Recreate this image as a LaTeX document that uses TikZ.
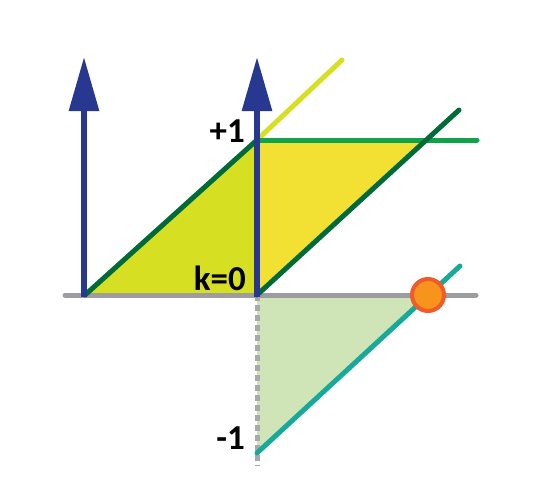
\documentclass[tikz,border=0pt]{standalone}
\usepackage{fontspec}
\setmainfont{Carlito}
\usetikzlibrary{arrows.meta}

\definecolor{axisgray}{HTML}{9D9D9F}
\definecolor{dashgray}{HTML}{A7A9AC}
\definecolor{arrowblue}{HTML}{283891}
\definecolor{darkgreen}{HTML}{006B38}
\definecolor{midgreen}{HTML}{10A34A}
\definecolor{lime}{HTML}{D7DF23}
\definecolor{sunyellow}{HTML}{F2E132}
\definecolor{teal}{HTML}{17A99A}
\definecolor{palegreen}{HTML}{CFE5B7}
\definecolor{dotorange}{HTML}{F7941D}
\definecolor{dotrim}{HTML}{F15A29}

\tikzset{
  axisline/.style={axisgray,line width=5pt,line cap=round},
  stemline/.style={dashgray,line width=5pt,dash pattern=on 6pt off 4pt},
  ramp/.style={line width=5pt,line cap=round},
  level/.style={arrowblue,line width=6pt,-{Triangle[length=54pt,width=29pt]}},
  tick/.style={font=\fontsize{35}{35}\selectfont\bfseries,inner sep=0pt,anchor=base east},
  marker/.style={circle,fill=dotorange,draw=dotrim,line width=4pt,minimum size=32pt,inner sep=0pt}
}

\begin{document}
\begin{tikzpicture}[x=1pt,y=-1pt]
\useasboundingbox (0,0) rectangle (533,498);

% points
\coordinate (L) at (85,295);
\coordinate (O) at (257,295);
\coordinate (P) at (257,140);
\coordinate (M) at (257,453);
\coordinate (X) at (427,140);
\coordinate (Z) at (428,295);

% filled regions
\fill[lime] (L) -- (O) -- (P) -- cycle;
\fill[sunyellow] (P) -- (X) -- (O) -- cycle;
\fill[palegreen] (O) -- (M) -- (Z) -- cycle;

% axes
\draw[axisline] (65,295) -- (476,295);
\draw[stemline] (O) -- (257,466);

% lines
\draw[ramp,darkgreen] (L) -- (P);
\draw[ramp,lime] (P) -- (342,60);
\draw[ramp,midgreen] (P) -- (477,140);
\draw[ramp,darkgreen] (O) -- (459,110);
\draw[ramp,teal] (M) -- (460,266);

% arrows
\draw[level] (84,297) -- (84,57);
\draw[level] (257,297) -- (257,57);

% labels
\node[tick] (plus) at (245,142) {+1};
\node[tick] (zero) at (246,290) {k=0};
\node[tick] (minus) at (245,449) {-1};

\node[marker] (dot) at (Z) {};
\end{tikzpicture}
\end{document}
